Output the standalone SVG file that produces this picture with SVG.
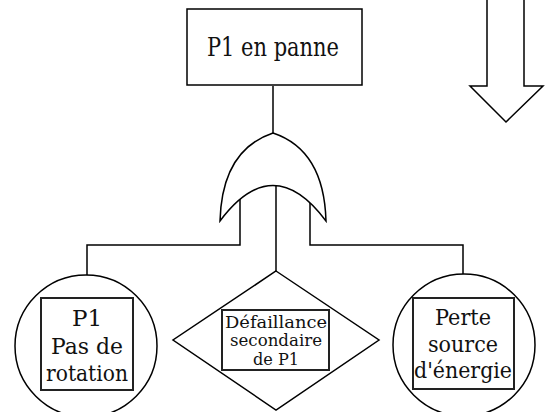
<svg xmlns="http://www.w3.org/2000/svg" width="545" height="412" viewBox="0 0 545 412">
<style>
.s{fill:none;stroke:#000;stroke-width:1.5}
.b{fill:#fff;stroke:#000;stroke-width:1.5}
.ib{fill:none;stroke:#222;stroke-width:2}
</style>
<g id="connectors">
<line class="s" x1="273" y1="86" x2="273" y2="133"/>
<line class="s" x1="276" y1="186" x2="276" y2="271"/>
<polyline class="s" points="240,198 240,245 87,245 87,275"/>
<polyline class="s" points="310,198 310,245 463,245 463,274"/>
</g>
<g font-family="'DejaVu Serif', serif" fill="#111" text-anchor="middle">
<g id="top-event">
<rect class="b" x="187" y="9" width="175" height="76"/>
<text font-size="26" x="273" y="56" textLength="132" lengthAdjust="spacingAndGlyphs">P1 en panne</text>
</g>
<g id="or-gate">
<path class="b" d="M220,221 Q222,150 273,133 Q324,150 326,221 Q273,150 220,221 Z"/>
</g>
<g id="event-rotation">
<circle class="b" cx="86" cy="346" r="71"/>
<rect class="ib" x="41" y="298" width="92" height="92"/>
<text font-size="23" x="87" y="326">P1</text>
<text font-size="23" x="87" y="354" textLength="72" lengthAdjust="spacingAndGlyphs">Pas de</text>
<text font-size="23" x="87" y="381" textLength="82" lengthAdjust="spacingAndGlyphs">rotation</text>
</g>
<g id="event-secondaire">
<polygon class="b" points="276,271 379,340 276,410 173,340"/>
<rect class="ib" x="222" y="310" width="107" height="60"/>
<text font-size="16" x="276" y="328" textLength="102" lengthAdjust="spacingAndGlyphs">Défaillance</text>
<text font-size="16" x="276" y="346" textLength="92" lengthAdjust="spacingAndGlyphs">secondaire</text>
<text font-size="16" x="276" y="365" textLength="46" lengthAdjust="spacingAndGlyphs">de P1</text>
</g>
<g id="event-energie">
<circle class="b" cx="464" cy="345" r="71"/>
<rect class="ib" x="413" y="298" width="101" height="91"/>
<text font-size="23" x="463" y="325" textLength="56" lengthAdjust="spacingAndGlyphs">Perte</text>
<text font-size="23" x="463" y="352" textLength="70" lengthAdjust="spacingAndGlyphs">source</text>
<text font-size="23" x="463" y="378" textLength="98" lengthAdjust="spacingAndGlyphs">d'énergie</text>
</g>
</g>
<g id="arrow">
<polygon class="b" points="487,-2 524,-2 524,86 543,86 506,122 470,86 487,86"/>
</g>
</svg>
